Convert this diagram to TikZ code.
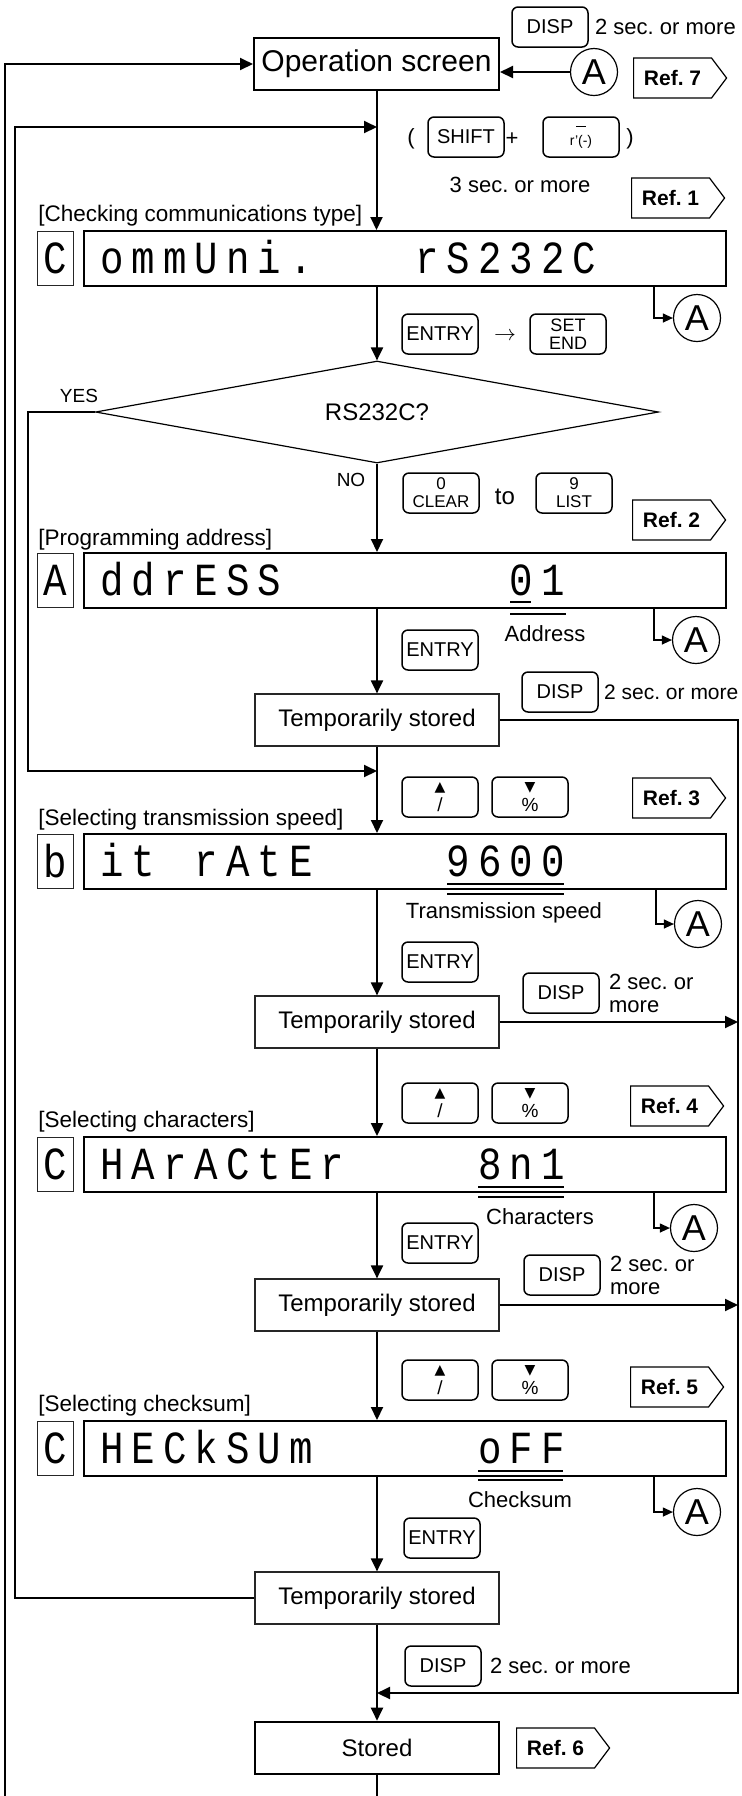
\documentclass[tikz,border=0pt]{standalone}
\usepackage{fontspec}
\setmainfont{Liberation Sans}
\newfontfamily\segfont[FakeStretch=0.85,LetterSpace=17.4]{Liberation Mono}
\newfontfamily\symfont{DejaVu Sans}
\usetikzlibrary{shapes.geometric,shapes.symbols,arrows.meta,positioning,calc}

\begin{document}
\frenchspacing
\begin{tikzpicture}[x=0.5pt,y=-0.5pt,
  node distance=3pt,
  line/.style={line width=1pt},
  arr/.style={line width=1pt,-{Triangle[length=6.5pt,width=6pt]}},
  thinarr/.style={line width=0.6pt,-{Triangle[length=5pt,width=4.5pt]}},
  opbox/.style={rectangle,draw,line width=1pt,minimum width=122.5pt,minimum height=26pt,
    font=\fontsize{15}{18}\selectfont},
  tmpbox/.style={rectangle,draw=black!85,line width=0.6pt,minimum width=122pt,minimum height=26pt,
    font=\fontsize{12}{14}\selectfont},
  stbox/.style={tmpbox,draw=black,line width=1.3pt},
  dispbox/.style={rectangle,draw,line width=1pt,minimum width=321pt,minimum height=27.5pt,inner sep=0pt},
  segbox/.style={rectangle,draw=black!85,line width=0.5pt,minimum width=18pt,minimum height=27pt,
    inner sep=0pt,font=\segfont\fontsize{23}{25}\selectfont},
  segtxt/.style={anchor=base west,inner sep=0pt,font=\segfont\fontsize{23}{25}\selectfont},
  key/.style={rectangle,rounded corners=3pt,draw,line width=0.75pt,minimum width=38pt,minimum height=20pt,
    inner sep=1pt,align=center,font=\fontsize{10}{8}\selectfont},
  twokey/.style={key,inner sep=0.5pt,font=\fontsize{8.5}{9}\selectfont},
  arrkey/.style={key,inner sep=0.5pt,font=\fontsize{9.5}{10}\selectfont},
  ref/.style={signal,signal to=east,signal pointer angle=106,draw,line width=0.6pt,anchor=west,
    minimum width=46.5pt,minimum height=20pt,inner sep=2pt,font=\bfseries\fontsize{10.5}{12}\selectfont},
  circA/.style={circle,draw,line width=0.6pt,minimum size=23.5pt,inner sep=0pt,font=\fontsize{18}{20}\selectfont},
  title/.style={anchor=west,inner sep=0pt,font=\fontsize{11.25}{13}\selectfont},
  lbl/.style={inner sep=0pt,font=\fontsize{11}{13}\selectfont},
  two/.style={lbl,align=left,font=\fontsize{11}{11.5}\selectfont},
  decision/.style={diamond,draw,line width=0.6pt,aspect=5.5,minimum width=281.5pt,minimum height=51pt,
    inner sep=0pt,font=\fontsize{12}{14}\selectfont},
  uline/.style={line width=1.2pt}]
  \useasboundingbox (0,0) rectangle (741,1796);

  % top: operation screen
  \node[opbox] (op) at (376.5,64) {Operation screen};
  \node[key] (k0) at (550,27) {DISP};
  \node[lbl,right=of k0] (s0) {2 sec. or more};
  \node[circA] (a0) at (594,72) {A};
  \node[ref] (r7) at (633,78) {Ref. 7};

  \node[lbl] (lp) at (411,139) {(};
  \node[key] (kshift) at (466,137) {SHIFT};
  \node[lbl] (plus) at (512,139) {+};
  \node[key] (kneg) at (581,137) {\rule{5pt}{0.5pt}\\[1pt]{\fontsize{7}{7}\selectfont r'(-)}};
  \node[lbl] (rp) at (630,139) {)};
  \node[lbl] (s1) at (520,185) {3 sec. or more};
  \node[ref] (r1) at (631,198) {Ref. 1};

  % communications type
  \node[title] (h1) at (38,216) {[Checking communications type]};
  \node[segbox] (c1) at (55,258.5) {C};
  \node[dispbox] (d1) at (405,258.5) {};
  \node[segtxt] (v1a) at ($(d1.west)+(17,15)$) {ommUni.};
  \node[segtxt] (v1b) at ($(d1.west)+(17+31.5*10,15)$) {rS232C};
  \node[circA] (a1) at (697,318) {A};
  \node[key] (ke1) at (440,334) {ENTRY};
  \node[lbl] (to0) at (505,336) {$\rightarrow$};
  \node[twokey,font=\fontsize{9}{9}\selectfont] (kset) at (568,334) {SET\\END};
  \node[decision] (rs) at (377,412) {RS232C?};
  \node[lbl,font=\fontsize{9.5}{11}\selectfont] (yes) at (79,396) {YES};
  \node[lbl,font=\fontsize{9.5}{11}\selectfont] (no) at (351,480) {NO};

  % address
  \node[twokey] (kclr) at (441,493) {0\\CLEAR};
  \node[lbl,font=\fontsize{12}{14}\selectfont] (to1) at (505,497) {to};
  \node[twokey] (klst) at (574,493) {9\\LIST};
  \node[ref] (r2) at (632,520) {Ref. 2};
  \node[title] (h2) at (38,540) {[Programming address]};
  \node[segbox] (c2) at (55,580.5) {A};
  \node[dispbox] (d2) at (405,580.5) {};
  \node[segtxt] (v2a) at ($(d2.west)+(17,15)$) {ddrESS};
  \node[segtxt] (v2b) at ($(d2.west)+(17+31.5*13,15)$) {01};
  \draw[uline] (510,602) -- (531,602);
  \draw[uline] (510,614) -- (566,614);
  \node[lbl] (l2) at (545,634) {Address};
  \node[circA] (a2) at (696,640) {A};
  \node[key] (ke2) at (440,650) {ENTRY};
  \node[key] (k2) at (560,692) {DISP};
  \node[lbl,right=2.5pt of k2,font=\fontsize{10.5}{13}\selectfont] (s2) {2 sec. or more};
  \node[tmpbox] (tmp1) at (377,720) {Temporarily stored};

  % transmission speed
  \node[arrkey] (ku3) at (440,797) {{\symfont\fontsize{7}{7}\selectfont ▲}\\/};
  \node[arrkey] (kd3) at (530,797) {{\symfont\fontsize{7}{7}\selectfont ▼}\\\%};
  \node[ref] (r3) at (632,798) {Ref. 3};
  \node[title] (h3) at (38,820) {[Selecting transmission speed]};
  \node[segbox] (c3) at (55,861.5) {b};
  \node[dispbox] (d3) at (405,861.5) {};
  \node[segtxt] (v3a) at ($(d3.west)+(17,15)$) {it};
  \node[segtxt] (v3b) at ($(d3.west)+(17+31.5*3,15)$) {rAtE};
  \node[segtxt] (v3c) at ($(d3.west)+(17+31.5*11,15)$) {9600};
  \draw[uline] (447,884) -- (564,884);
  \draw[uline] (447,894) -- (564,894);
  \node[lbl] (l3) at (504,913) {Transmission speed};
  \node[circA] (a3) at (698,924) {A};
  \node[key] (ke3) at (440,962) {ENTRY};
  \node[key] (k3) at (561,993) {DISP};
  \node[two,right=4.5pt of k3] (s3) {2 sec. or\\more};
  \node[tmpbox] (tmp2) at (377,1022) {Temporarily stored};

  % characters
  \node[arrkey] (ku4) at (440,1103) {{\symfont\fontsize{7}{7}\selectfont ▲}\\/};
  \node[arrkey] (kd4) at (530,1103) {{\symfont\fontsize{7}{7}\selectfont ▼}\\\%};
  \node[ref] (r4) at (630,1106) {Ref. 4};
  \node[title] (h4) at (38,1122) {[Selecting characters]};
  \node[segbox] (c4) at (55,1164.5) {C};
  \node[dispbox] (d4) at (405,1164.5) {};
  \node[segtxt] (v4a) at ($(d4.west)+(17,15)$) {HArACtEr};
  \node[segtxt] (v4b) at ($(d4.west)+(17+31.5*12,15)$) {8n1};
  \draw[uline] (478,1187) -- (564,1187);
  \draw[uline] (478,1197) -- (564,1197);
  \node[lbl] (l4) at (540,1217) {Characters};
  \node[circA] (a4) at (694,1228) {A};
  \node[key] (ke4) at (440,1243) {ENTRY};
  \node[key] (k4) at (562,1275) {DISP};
  \node[two,right=4.5pt of k4] (s4) {2 sec. or\\more};
  \node[tmpbox] (tmp3) at (377,1305) {Temporarily stored};

  % checksum
  \node[arrkey] (ku5) at (440,1380) {{\symfont\fontsize{7}{7}\selectfont ▲}\\/};
  \node[arrkey] (kd5) at (530,1380) {{\symfont\fontsize{7}{7}\selectfont ▼}\\\%};
  \node[ref] (r5) at (630,1387) {Ref. 5};
  \node[title] (h5) at (38,1406) {[Selecting checksum]};
  \node[segbox] (c5) at (55,1448.5) {C};
  \node[dispbox] (d5) at (405,1448.5) {};
  \node[segtxt] (v5a) at ($(d5.west)+(17,15)$) {HECkSUm};
  \node[segtxt] (v5b) at ($(d5.west)+(17+31.5*12,15)$) {oFF};
  \draw[uline] (478,1471) -- (563,1471);
  \draw[uline] (478,1480) -- (563,1480);
  \node[lbl] (l5) at (520,1500) {Checksum};
  \node[circA] (a5) at (697,1512) {A};
  \node[key] (ke5) at (442,1538) {ENTRY};
  \node[tmpbox] (tmp4) at (377,1598) {Temporarily stored};
  \node[key] (k5) at (443,1666) {DISP};
  \node[lbl,right=4pt of k5] (s5) {2 sec. or more};
  \node[stbox] (st) at (377,1748) {Stored};
  \node[ref] (r6) at (516,1748) {Ref. 6};

  % junctions and loop lines
  \coordinate (j1) at (377,127);
  \coordinate (j2) at (377,771);
  \coordinate (j3) at (377,1693);
  \coordinate (xL) at (5,1796);
  \coordinate (xB) at (15,0);
  \coordinate (xC) at (28,0);
  \coordinate (xR) at (738,0);
  \coordinate (bot) at (377,1796);

  \draw[arr] (xL) |- (op.west);
  \draw[arr] (a0.west) -- (a0.west -| op.east);
  \draw[arr] (op.south) -- (op.south |- d1.north);
  \draw[arr] (tmp4.west) -| (xB |- j1) -- (j1);
  \draw[arr] (d1.south -| rs.north) -- (rs.north);
  \draw[arr] (rs.west) -| (xC |- j2) -- (j2);
  \draw[arr] (rs.south) -- (rs.south |- d2.north);
  \draw[arr] (d2.south -| tmp1.north) -- (tmp1.north);
  \draw[arr] (tmp1.south) -- (tmp1.south |- d3.north);
  \draw[arr] (tmp1.east) -| (xR |- j3) -- (j3);
  \draw[arr] (d3.south -| tmp2.north) -- (tmp2.north);
  \draw[arr] (tmp2.east) -- (tmp2.east -| xR);
  \draw[arr] (tmp2.south) -- (tmp2.south |- d4.north);
  \draw[arr] (d4.south -| tmp3.north) -- (tmp3.north);
  \draw[arr] (tmp3.east) -- (tmp3.east -| xR);
  \draw[arr] (tmp3.south) -- (tmp3.south |- d5.north);
  \draw[arr] (d5.south -| tmp4.north) -- (tmp4.north);
  \draw[arr] (tmp4.south) -- (st.north);
  \draw[line] (st.south) -- (bot);

  % branches to A
  \draw[thinarr] ($(d1.south east)+(-73,0)$) |- (a1.west);
  \draw[thinarr] ($(d2.south east)+(-73,0)$) |- (a2.west);
  \draw[thinarr] ($(d3.south east)+(-71,0)$) |- (a3.west);
  \draw[thinarr] ($(d4.south east)+(-73,0)$) |- (a4.west);
  \draw[thinarr] ($(d5.south east)+(-73,0)$) |- (a5.west);
\end{tikzpicture}
\end{document}
